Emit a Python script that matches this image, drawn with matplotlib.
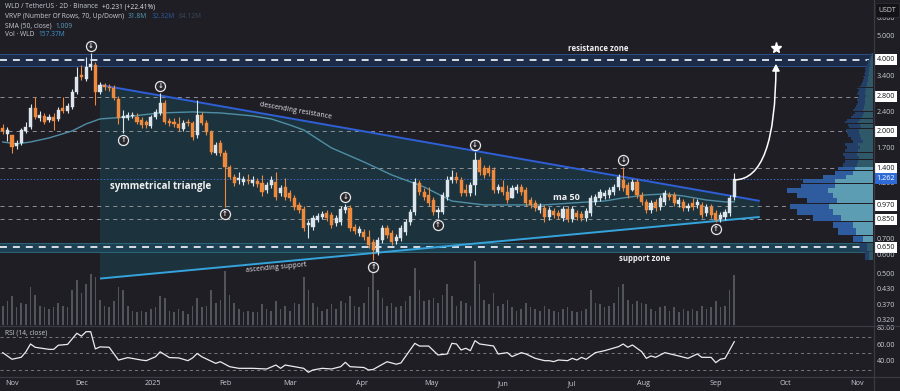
import numpy as np
import pandas as pd
import matplotlib
matplotlib.use("Agg")
import matplotlib.pyplot as plt
import matplotlib.dates as mdates
import matplotlib.transforms as mtransforms
from matplotlib.patches import Rectangle, Polygon, FancyArrowPatch
from matplotlib.collections import PolyCollection
from matplotlib.path import Path
from matplotlib.lines import Line2D

plt.rcParams['font.family'] = ['Open Sans', 'DejaVu Sans']
plt.rcParams['lines.scale_dashes'] = False

# ---------------- data ----------------
start_date = "2024-10-28"   # 2D candles
opens = [
    2.067, 1.950, 1.931, 1.736, 1.787, 2.008, 2.087, 2.510, 2.278, 2.323,
    2.234, 2.300, 2.256, 2.510, 2.438, 2.535, 2.932, 3.458, 3.327, 3.737,
    3.810, 2.932, 3.138, 3.078, 3.048, 2.739, 2.278, 2.278, 2.323, 2.300,
    2.234, 2.191, 2.108, 2.300, 2.391, 2.635, 2.213, 2.191, 2.149, 2.047,
    2.191, 2.170, 1.931, 2.345, 2.170, 1.988, 1.622, 1.787, 1.622, 1.415,
    1.285, 1.248, 1.224, 1.248, 1.212, 1.236, 1.212, 1.132, 1.189, 1.224,
    1.100, 1.166, 1.100, 1.048, 0.979, 0.941, 0.806, 0.790, 0.846, 0.871,
    0.906, 0.888, 0.822, 0.830, 0.932, 0.951, 0.790, 0.746, 0.753, 0.717,
    0.683, 0.620, 0.697, 0.783, 0.746, 0.690, 0.710, 0.753, 0.830, 0.914,
    1.212, 1.110, 1.079, 1.027, 0.914, 0.914, 1.058, 1.248, 1.285, 1.248,
    1.132, 1.100, 1.189, 1.515, 1.402, 1.402, 1.375, 1.132, 1.166, 1.110,
    1.048, 1.132, 1.166, 1.132, 1.027, 0.998, 0.932, 0.951, 0.871, 0.923,
    0.906, 0.863, 0.941, 0.854, 0.906, 0.897, 0.863, 0.906, 1.008, 1.048,
    1.068, 1.079, 1.110, 1.166, 1.248, 1.189, 1.132, 1.224, 1.079, 1.008,
    0.932, 1.008, 0.960, 1.008, 1.079, 1.079, 0.988, 1.008, 0.951, 0.998,
    0.979, 0.979, 0.906, 0.960, 0.906, 0.854, 0.871, 0.906, 1.058,
]
highs = [
    2.149, 2.087, 1.931, 1.840, 2.067, 2.191, 2.610, 2.793, 2.438, 2.391,
    2.368, 2.391, 2.535, 2.793, 2.635, 3.019, 3.737, 3.810, 4.118, 4.281,
    3.923, 3.231, 3.200, 3.169, 3.138, 2.820, 2.462, 2.415, 2.415, 2.391,
    2.300, 2.234, 2.345, 2.486, 2.903, 2.713, 2.278, 2.278, 2.300, 2.234,
    2.256, 2.213, 2.713, 2.415, 2.234, 2.027, 1.804, 1.840, 1.670, 1.443,
    1.322, 1.348, 1.297, 1.322, 1.297, 1.272, 1.310, 1.224, 1.297, 1.348,
    1.189, 1.272, 1.132, 1.079, 1.008, 0.969, 0.846, 0.888, 0.906, 0.923,
    0.932, 0.914, 0.888, 0.969, 0.988, 0.979, 0.814, 0.798, 0.775, 0.768,
    0.704, 0.717, 0.806, 0.806, 0.768, 0.738, 0.806, 0.854, 0.941, 1.272,
    1.248, 1.155, 1.166, 1.058, 0.960, 1.110, 1.297, 1.375, 1.348, 1.285,
    1.200, 1.224, 1.638, 1.560, 1.443, 1.443, 1.415, 1.200, 1.248, 1.189,
    1.189, 1.200, 1.200, 1.166, 1.058, 1.027, 0.998, 0.979, 0.960, 0.951,
    0.932, 0.969, 0.969, 0.969, 0.932, 0.923, 0.951, 1.079, 1.089, 1.143,
    1.132, 1.166, 1.200, 1.322, 1.415, 1.224, 1.260, 1.260, 1.110, 1.037,
    1.027, 1.037, 1.079, 1.132, 1.110, 1.110, 1.058, 1.037, 0.998, 1.048,
    1.037, 1.008, 0.988, 0.988, 0.932, 0.914, 0.941, 1.079, 1.335,
]
lows = [
    1.950, 1.822, 1.622, 1.686, 1.753, 1.969, 2.047, 2.256, 2.213, 2.149,
    2.191, 2.027, 2.213, 2.391, 2.391, 2.486, 2.875, 3.294, 3.262, 3.630,
    2.584, 2.875, 2.989, 2.960, 2.713, 2.149, 1.969, 2.234, 2.278, 2.149,
    2.067, 2.067, 2.067, 2.256, 2.345, 2.149, 2.108, 2.087, 2.008, 2.008,
    2.108, 1.840, 1.876, 2.128, 1.931, 1.606, 1.591, 1.575, 0.960, 1.260,
    1.177, 1.200, 1.189, 1.200, 1.177, 1.166, 1.068, 1.100, 1.155, 1.027,
    1.068, 1.027, 1.017, 0.932, 0.906, 0.760, 0.710, 0.768, 0.830, 0.854,
    0.838, 0.783, 0.798, 0.806, 0.906, 0.760, 0.738, 0.724, 0.697, 0.645,
    0.574, 0.602, 0.677, 0.710, 0.664, 0.670, 0.690, 0.731, 0.806, 0.888,
    1.079, 1.027, 0.969, 0.888, 0.863, 0.897, 1.027, 1.212, 1.212, 1.068,
    1.068, 1.068, 1.079, 1.310, 1.272, 1.297, 1.100, 1.100, 1.079, 0.998,
    1.048, 1.100, 1.079, 0.969, 0.951, 0.923, 0.906, 0.830, 0.846, 0.863,
    0.854, 0.838, 0.830, 0.830, 0.846, 0.838, 0.838, 0.879, 0.979, 1.017,
    1.037, 1.048, 1.079, 1.132, 1.121, 1.048, 1.121, 1.048, 0.979, 0.906,
    0.906, 0.923, 0.932, 0.979, 1.027, 0.969, 0.960, 0.923, 0.923, 0.932,
    0.951, 0.863, 0.880, 0.863, 0.830, 0.830, 0.846, 0.879, 1.027,
]
closes = [
    2.008, 2.027, 1.719, 1.787, 2.027, 2.087, 2.510, 2.300, 2.345, 2.191,
    2.300, 2.213, 2.462, 2.438, 2.559, 2.932, 3.392, 3.392, 3.737, 3.848,
    2.932, 3.138, 3.078, 3.048, 2.766, 2.278, 2.323, 2.345, 2.345, 2.191,
    2.128, 2.128, 2.300, 2.415, 2.635, 2.191, 2.170, 2.149, 2.067, 2.170,
    2.170, 1.894, 2.345, 2.170, 1.988, 1.638, 1.753, 1.622, 1.415, 1.285,
    1.212, 1.272, 1.260, 1.236, 1.248, 1.200, 1.110, 1.189, 1.248, 1.058,
    1.155, 1.058, 1.048, 0.960, 0.932, 0.783, 0.822, 0.863, 0.879, 0.897,
    0.863, 0.806, 0.863, 0.941, 0.960, 0.783, 0.760, 0.775, 0.717, 0.664,
    0.632, 0.697, 0.783, 0.731, 0.683, 0.717, 0.783, 0.830, 0.914, 1.224,
    1.110, 1.058, 0.998, 0.914, 0.932, 1.079, 1.248, 1.285, 1.248, 1.100,
    1.100, 1.189, 1.515, 1.348, 1.310, 1.335, 1.132, 1.166, 1.110, 1.027,
    1.155, 1.166, 1.110, 0.998, 0.979, 0.951, 0.969, 0.871, 0.932, 0.888,
    0.879, 0.941, 0.854, 0.941, 0.871, 0.863, 0.923, 1.048, 1.058, 1.110,
    1.100, 1.132, 1.166, 1.285, 1.155, 1.079, 1.224, 1.079, 1.008, 0.932,
    0.998, 0.951, 1.048, 1.100, 1.058, 0.998, 1.027, 0.951, 0.969, 0.960,
    1.008, 0.888, 0.960, 0.888, 0.846, 0.888, 0.914, 1.048, 1.262,
]
volumes_m = [
    60, 75, 90, 55, 70, 65, 120, 95, 60, 55,
    50, 55, 70, 60, 55, 110, 140, 100, 130, 160,
    150, 80, 60, 55, 75, 120, 110, 60, 45, 40,
    45, 40, 50, 55, 90, 85, 45, 40, 50, 45,
    35, 60, 85, 55, 60, 110, 70, 80, 170, 95,
    70, 50, 40, 45, 40, 40, 65, 50, 45, 75,
    50, 60, 45, 70, 65, 150, 110, 70, 55, 45,
    50, 65, 50, 75, 70, 90, 60, 55, 70, 120,
    190, 110, 85, 60, 70, 55, 60, 75, 90, 180,
    110, 75, 80, 85, 70, 95, 130, 90, 60, 75,
    70, 60, 200, 130, 80, 65, 100, 60, 65, 80,
    55, 45, 50, 70, 55, 50, 45, 60, 50, 45,
    40, 50, 55, 45, 40, 45, 50, 110, 70, 65,
    55, 60, 70, 120, 130, 80, 65, 75, 70, 65,
    50, 45, 55, 60, 45, 55, 40, 50, 45, 50,
    45, 60, 50, 55, 75, 55, 60, 110, 157.37,
]
sma_idx = [0, 3, 6, 10, 15, 18, 21, 24, 27, 30, 34, 41, 47, 54, 58, 62, 65, 71,
           78, 84, 91, 97, 104, 110, 117, 123, 130, 134, 139, 143, 147, 152, 156, 158]
sma_vals = [1.804, 1.770, 1.804, 1.876, 2.008, 2.149, 2.256, 2.278, 2.300, 2.345,
            2.391, 2.415, 2.391, 2.323, 2.256, 2.128, 2.027, 1.703, 1.486, 1.310,
            1.166, 1.017, 0.979, 0.979, 0.979, 0.998, 1.017, 1.048, 1.079, 1.089,
            1.068, 1.027, 1.008, 1.009]
rsi_idx = [0, 2, 4, 5, 6, 7, 10, 11, 12, 14, 16, 17, 18, 19, 20, 21, 23, 25, 27, 30,
           31, 33, 34, 36, 38, 40, 41, 42, 43, 46, 47, 49, 51, 54, 57, 59, 60, 61, 65, 66,
           67, 69, 71, 73, 74, 75, 78, 79, 80, 83, 85, 86, 89, 90, 92, 94, 96, 97, 98, 99,
           100, 101, 102, 103, 106, 107, 109, 110, 112, 113, 115, 117, 118, 119, 120, 122,
           123, 124, 125, 126, 128, 130, 133, 134, 135, 136, 138, 139, 140, 141, 143, 146,
           148, 150, 151, 153, 154, 155, 156, 158]
rsi_vals = [51, 43, 45.4, 52, 61.5, 57.5, 55, 55, 60, 61, 74.5, 71, 76.4, 76.4, 55.5, 58,
            57.5, 42, 45, 42, 41.3, 46, 52, 45, 44.6, 41.3, 44.6, 50, 46, 38, 40, 34, 32,
            32, 31.2, 36, 32, 36, 32, 27.2, 30, 32, 31.2, 34, 39.3, 34, 33, 30, 30.6, 40,
            37, 38.5, 62.3, 59, 59, 48.2, 49.4, 62.3, 61.5, 54.2, 56.3, 53.4, 65.5, 61.5,
            59.1, 49.4, 51.0, 46.2, 51.0, 49.4, 44.1, 41.3, 41.3, 40.1, 42.1, 41.3, 44.1,
            42.1, 45.3, 43, 51.0, 53.4, 58.3, 61.5, 57.5, 60.3, 52.2, 44.1, 47, 45.3, 51.0,
            47, 44.1, 49.4, 45.3, 45.3, 38.9, 43, 44.1, 64.3]
vp_rows = 70
vp_up = [4, 6, 10, 17, 20, 32, 40, 44, 36, 40,
         45, 38, 38, 27, 20, 18, 16, 15, 14, 16,
         15, 13, 15, 10, 12, 13, 14, 14, 12, 13,
         15, 13, 11, 10, 9, 10, 9, 9, 8, 8,
         8, 8, 7, 8, 8, 7, 8, 7, 6, 6,
         5, 5, 5, 5, 4, 5, 4, 4, 4, 4,
         3, 3, 3, 3, 3, 2, 2, 2, 1, 1]
vp_dn = [4, 7, 10, 18, 20, 28, 36, 39, 30, 36,
         41, 34, 32, 23, 18, 17, 14, 13, 14, 14,
         13, 13, 13, 10, 10, 12, 12, 13, 12, 12,
         13, 13, 11, 10, 9, 10, 9, 8, 8, 7,
         8, 7, 7, 8, 7, 7, 8, 7, 6, 5,
         5, 5, 4, 5, 4, 4, 4, 3, 4, 3,
         3, 3, 2, 2, 3, 2, 1, 1, 1, 1]
value_area_rows = (2, 15)
pivot_high_idx = [19, 34, 74, 102, 134]
pivot_low_idx = [26, 48, 80, 94, 154]
key_levels = [2.8, 2.0, 1.4, 0.97, 0.85]
resistance_zone = (3.79, 4.24)
resistance_level = 4.0
support_zone = (0.62, 0.677)
support_level = 0.65
tri_dates = ["2024-12-09", "2025-09-20"]
tri_upper = [3.138, 1.018]
tri_lower = [0.479, 0.871]
price_labels = [6.0, 5.0, 4.0, 3.4, 2.8, 2.4, 2.0, 1.7, 1.4, 1.2, 0.97, 0.85,
                0.7, 0.65, 0.6, 0.5, 0.43, 0.37, 0.32]
boxed_labels = [4.0, 2.8, 2.0, 1.4, 0.97, 0.85, 0.65]
rsi_levels = [70, 50, 30]
rsi_labels = [80, 60, 40]
month_ticks = ["2024-11-01", "2024-12-01", "2025-01-01", "2025-02-01", "2025-03-01",
               "2025-04-01", "2025-05-01", "2025-06-01", "2025-07-01", "2025-08-01",
               "2025-09-01", "2025-10-01", "2025-11-01"]
month_labels = ["Nov", "Dec", "2025", "Feb", "Mar", "Apr", "May", "Jun", "Jul",
                "Aug", "Sep", "Oct", "Nov"]
target_date = "2025-09-27"
target_from = ("2025-09-09", 1.248)
target_to = 3.85
target_star = 4.48

# ---------------- style ----------------
W, H = 900, 391
BG = '#1f1e25'
UP = '#dde6ec'
DN = '#ef8a3d'
TXT = '#c9ccd4'

fig = plt.figure(figsize=(9, 3.91), dpi=100, facecolor=BG)
def fx(px): return px / W
def fy(py): return 1 - py / H

PR = 873
ax = fig.add_axes([0, fy(325), PR / W, 325 / H], facecolor=BG)
axr = fig.add_axes([0, fy(376), PR / W, 50 / H], facecolor=BG)
for a in (ax, axr):
    for s in a.spines.values():
        s.set_visible(False)
    a.tick_params(which='both', length=0, labelleft=False, labelbottom=False)

dates = pd.date_range(start_date, periods=len(closes), freq='2D')
xd = mdates.date2num(dates)
nov1 = mdates.date2num(pd.Timestamp("2024-11-01"))
ppd = 2.315
xlim = (nov1 - 12 / ppd, nov1 + (PR - 12) / ppd)

o = np.array(opens); h = np.array(highs); l = np.array(lows); c = np.array(closes)

ax.set_yscale('log')
ax.set_ylim(0.3052, 7.158)
ax.set_xlim(*xlim)
ax.yaxis.set_major_locator(matplotlib.ticker.NullLocator())
ax.yaxis.set_minor_locator(matplotlib.ticker.NullLocator())
ax.set_xticks([])

blend_xa = mtransforms.blended_transform_factory(ax.transData, ax.transAxes)
blend_ay = mtransforms.blended_transform_factory(ax.transAxes, ax.transData)

# triangle fill
t0, t1 = mdates.date2num(pd.to_datetime(tri_dates))
ax.add_patch(Polygon([(t0, tri_upper[0]), (t1, tri_upper[1]), (t1, tri_lower[1]), (t0, tri_lower[0])],
                     closed=True, fc='#1c333d', ec='none', zorder=1))

# volume bars
vmax = 1020.0
verts = [[(x - 0.35, 0), (x - 0.35, v / vmax), (x + 0.35, v / vmax), (x + 0.35, 0)]
         for x, v in zip(xd, volumes_m)]
ax.add_collection(PolyCollection(verts, transform=blend_xa, facecolors='#5f6269',
                                 edgecolors='none', alpha=0.8, zorder=1.5))

# zones
for (lo, hi), lvl, fc, ec in [(resistance_zone, resistance_level, '#1b2b48', '#2c5088'),
                              (support_zone, support_level, '#1d4152', '#2b6478')]:
    ax.add_patch(Rectangle((0, lo), 1, hi - lo, transform=blend_ay, fc=fc, ec='none', zorder=1.6))
    ax.axhline(lo, color=ec, lw=0.7, zorder=1.7)
    ax.axhline(hi, color=ec, lw=0.7, zorder=1.7)
    ax.axhline(lvl, color='#d8dee6', lw=1.4, dashes=(5, 4.3), zorder=1.8)

# key dashed levels
for lv in key_levels:
    ax.axhline(lv, color='#8f9098', lw=0.7, dashes=(2.9, 2.9), zorder=1.8)
ax.axhline(c[-1], color='#3b6fd0', lw=0.7, dashes=(1, 1.4), zorder=1.8)

# volume profile
lo_p, hi_p = l.min(), h.max()
step = (hi_p - lo_p) / vp_rows
for k in range(vp_rows):
    yb = lo_p + k * step
    inside = value_area_rows[0] <= k <= value_area_rows[1]
    cu = '#5c9db3' if inside else '#2f5868'
    cdn = '#2f5c9f' if inside else '#233f68'
    wu = vp_up[k] / PR
    wd = vp_dn[k] / PR
    ax.add_patch(Rectangle((1 - wu, yb), wu, step * 0.88, transform=blend_ay, fc=cu, ec='none', zorder=2))
    ax.add_patch(Rectangle((1 - wu - wd, yb), wd, step * 0.88, transform=blend_ay, fc=cdn, ec='none', zorder=2))

# trend lines
ax.plot([t0, t1], tri_upper, color='#2f5fd6', lw=1.4, zorder=3, solid_capstyle='butt')
ax.plot([t0, t1], tri_lower, color='#36a4dc', lw=1.4, zorder=3, solid_capstyle='butt')

# SMA
ax.plot(xd[sma_idx], sma_vals, color='#4f8ea6', lw=1.0, zorder=4)

# candles
up = c >= o
cols = np.where(up, UP, DN)
ax.vlines(xd, l, h, colors=cols, lw=0.8, zorder=5)
bot = np.minimum(o, c); top = np.maximum(o, c)
ax.bar(xd, top - bot, bottom=bot, width=1.35, color=cols, edgecolor=cols, lw=0.3, zorder=6)

# pivot markers
def pivot(idx, price, glyph):
    ax.scatter([xd[idx]], [price], s=52, marker='o', facecolors='#26252c', edgecolors='#e8e8ea',
               linewidths=0.9, zorder=8)
    ax.text(xd[idx], price, glyph, color='#e8e8ea', fontsize=5, ha='center', va='center',
            fontweight='bold', family=['DejaVu Sans'], zorder=9)
for i in pivot_high_idx:
    pivot(i, h[i] * np.exp(7 / 103), '↓')
for i in pivot_low_idx:
    pivot(i, l[i] / np.exp(7 / 103), '↑')

# target arrow and star
td = mdates.date2num(pd.Timestamp(target_date))
fd = mdates.date2num(pd.Timestamp(target_from[0]))
apath = Path([(fd, target_from[1]), (td, target_from[1]), (td, target_to)],
             [Path.MOVETO, Path.CURVE3, Path.CURVE3])
ax.add_patch(FancyArrowPatch(path=apath, arrowstyle='-|>,head_length=4,head_width=2.2',
                             color='white', lw=1.1, zorder=9))
ax.plot([td], [target_star], marker='*', ms=8, color='white', zorder=9)

# annotations
fig.canvas.draw()
def disp_angle(x0, y0, x1, y1):
    p0 = ax.transData.transform((x0, y0)); p1 = ax.transData.transform((x1, y1))
    return np.degrees(np.arctan2(p1[1] - p0[1], p1[0] - p0[0]))
ang_u = disp_angle(t0, tri_upper[0], t1, tri_upper[1])
ang_l = disp_angle(t0, tri_lower[0], t1, tri_lower[1])
def xat(px): return nov1 + (px - 12) / ppd
ax.text(xat(296), 2.43, 'descending resistance', color='#e6e6ea', fontsize=5, rotation=ang_u,
        rotation_mode='anchor', ha='center', va='center', zorder=9)
ax.text(xat(276), 0.532, 'ascending support', color='#e6e6ea', fontsize=5, rotation=ang_l,
        rotation_mode='anchor', ha='center', va='center', zorder=9)
ax.text(xat(110), 1.166, 'symmetrical triangle', color='#f0f0f2', fontsize=7, fontweight='bold',
        ha='left', va='center', zorder=9)
ax.text(xat(566), 1.048, 'ma 50', color='#f0f0f2', fontsize=6.5, fontweight='bold',
        ha='center', va='center', zorder=9)
ax.text(xat(598), 4.45, 'resistance zone', color='#f0f0f2', fontsize=5.6, fontweight='bold',
        ha='center', va='center', zorder=9)
ax.text(xat(645), 0.583, 'support zone', color='#f0f0f2', fontsize=5.6, fontweight='bold',
        ha='center', va='center', zorder=9)

# right price axis labels
lx = 886 / PR
for p in price_labels:
    if p in boxed_labels:
        ax.text(lx, p, f'{p:.3f}', transform=blend_ay, color='#131318', fontsize=5.2, ha='center',
                va='center', clip_on=False, zorder=10,
                bbox=dict(boxstyle='square,pad=0.28', fc='white', ec='none'))
    else:
        ax.text(lx, p, f'{p:.3f}', transform=blend_ay, color=TXT, fontsize=5.2, ha='center',
                va='center', clip_on=False, zorder=10)
ax.text(lx, c[-1], f'{c[-1]:.3f}', transform=blend_ay, color='white', fontsize=5.2, ha='center',
        va='center', clip_on=False, zorder=11,
        bbox=dict(boxstyle='square,pad=0.28', fc='#2f6bd6', ec='none'))
fig.text(fx(887), fy(10), 'USDT', color='#d8d8dc', fontsize=5, ha='center', va='center', zorder=20,
         bbox=dict(boxstyle='square,pad=0.5', fc='#141417', ec='#303038', lw=0.5))

# RSI panel
axr.set_xlim(*xlim)
axr.set_ylim(22.7, 83.3)
axr.set_xticks([]); axr.set_yticks([])
for lv in rsi_levels:
    axr.axhline(lv, color='#77777f', lw=0.7, dashes=(2.2, 2.2))
axr.plot(xd[rsi_idx], rsi_vals, color='#ececee', lw=0.9)
blend_r = mtransforms.blended_transform_factory(axr.transAxes, axr.transData)
for v in rsi_labels:
    axr.text(lx, v, f'{v:.2f}', transform=blend_r, color=TXT, fontsize=5.2, ha='center',
             va='center', clip_on=False)
axr.text(fx(5) * W / PR, 0.86, 'RSI (14, close)', transform=axr.transAxes, color=TXT,
         fontsize=4.8, ha='left', va='center')

# time axis labels
blend_t = mtransforms.blended_transform_factory(axr.transData, fig.transFigure)
for d, lab in zip(month_ticks, month_labels):
    axr.text(mdates.date2num(pd.Timestamp(d)), fy(383.5), lab, transform=blend_t, color=TXT,
             fontsize=5.2, ha='center', va='center', clip_on=False)

# separators
fig.add_artist(Line2D([fx(873.5)] * 2, [0, 1], color='#3a3944', lw=0.9, transform=fig.transFigure))
for yy in (325.5, 376.5):
    fig.add_artist(Line2D([0, 1], [fy(yy)] * 2, color='#3a3944', lw=0.9, transform=fig.transFigure))

# legend (top-left)
renderer = fig.canvas.get_renderer()
def run(y, parts, x=5, size=4.8):
    for s, col in parts:
        t = fig.text(fx(x), fy(y), s, color=col, fontsize=size, ha='left', va='center', zorder=20)
        x += t.get_window_extent(renderer).width + 4
run(7, [('WLD / TetherUS · 2D · Binance', TXT), ('+0.231 (+22.41%)', '#e0e0e4')])
run(17, [('VRVP (Number Of Rows, 70, Up/Down)', TXT), ('31.8M', '#4f9ab8'),
         ('32.32M', '#2d5a9e'), ('64.12M', '#3c4756')])
run(26, [('SMA (50, close)', TXT), ('1.009', '#5aa0bd')])
run(35, [('Vol · WLD', TXT), ('157.37M', '#3f95cf')])

fig.savefig('out.png', dpi=100, facecolor=BG)
